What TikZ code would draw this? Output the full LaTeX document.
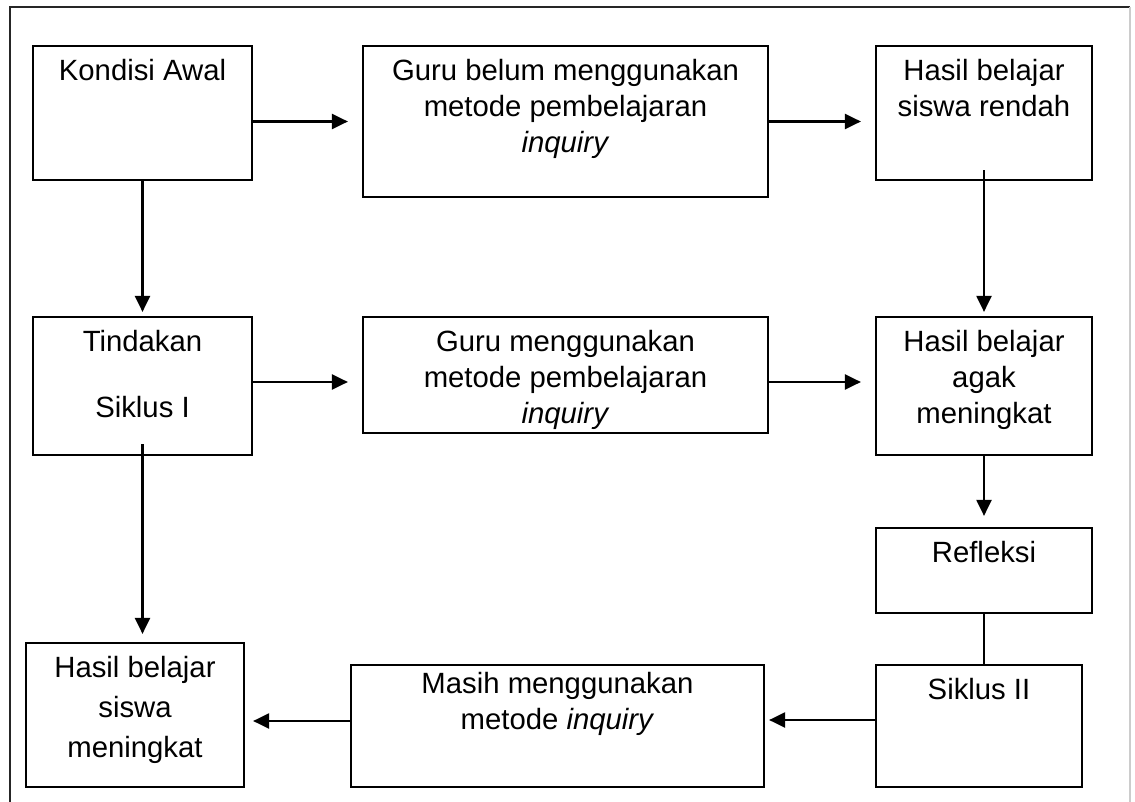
\documentclass[tikz,border=0pt]{standalone}
\usepackage{fontspec}
\setmainfont{Liberation Sans}
\usetikzlibrary{arrows.meta}
\tikzset{
  kotak/.style={draw, line width=1.1pt, inner sep=0pt},
  teks/.style={anchor=north, align=center, yshift=-3.6pt},
  panah/.style={-{Triangle[length=8pt,width=7.5pt]}, line width=1.1pt},
}

\begin{document}
\begin{tikzpicture}[x=0.5pt,y=-0.5pt,font=\fontsize{14.65}{18}\selectfont]
      \useasboundingbox (0,0) rectangle (1135,802);
      \draw[line width=0.9pt, black!85] (10,802) -- (10,7) -- (1130,7);
      \draw[line width=0.9pt, black!20] (1130,7) -- (1130,802);

      \node[kotak,minimum width=109.5pt,minimum height=67pt,label={[teks]north:{Kondisi Awal}}] (ka) at (142.5,113) {};
      \node[kotak,minimum width=202.5pt,minimum height=75.5pt,label={[teks]north:{Guru belum menggunakan\\metode pembelajaran\\\textit{inquiry}}}] (gb) at (565.5,121.5) {};
      \node[kotak,minimum width=108pt,minimum height=67pt,label={[teks]north:{Hasil belajar\\siswa rendah}}] (hr) at (984,113) {};
      \node[kotak,minimum width=109.5pt,minimum height=69pt,label={[teks]north:{Tindakan\\[15pt]Siklus I}}] (ts) at (142.5,386) {};
      \node[kotak,minimum width=202.5pt,minimum height=58pt,label={[teks]north:{Guru menggunakan\\metode pembelajaran\\\textit{inquiry}}}] (gm) at (565.5,375) {};
      \node[kotak,minimum width=108pt,minimum height=69pt,label={[teks]north:{Hasil belajar\\agak\\meningkat}}] (ha) at (984,386) {};
      \node[kotak,minimum width=108pt,minimum height=42.5pt,label={[teks]north:{Refleksi}}] (rf) at (984,570.5) {};
      \node[kotak,minimum width=103pt,minimum height=61pt,label={[teks]north:{Siklus II}}] (s2) at (979,726) {};
      \node[kotak,minimum width=206.5pt,minimum height=61pt,label={[teks,yshift=3pt]north:{Masih menggunakan\\metode \textit{inquiry}}}] (mm) at (557.5,726) {};
      \node[kotak,minimum width=109pt,minimum height=72pt,label={[teks]north:{Hasil belajar\\[2pt]siswa\\[2pt]meningkat}}] (hm) at (135,715) {};

      \draw[panah, shorten >=7pt] (ka.east |- gb.west) -- (gb.west);
      \draw[panah, shorten >=7pt] (gb.east) -- (gb.east -| hr.west);
      \draw[panah, shorten >=2pt] (ka.south) -- (ts.north);
      \draw[panah, shorten >=2pt] ([yshift=5.5pt]hr.south) -- (ha.north);
      \draw[panah, shorten >=7pt] ([yshift=2pt]ts.east) -- ([yshift=2pt]ts.east -| gm.west);
      \draw[panah, shorten >=7pt] ([yshift=-3.5pt]gm.east) -- ([yshift=-3.5pt]gm.east -| ha.west);
      \draw[panah, shorten >=4pt] ([yshift=6pt]ts.south) -- (ts.south |- hm.north);
      \draw[panah, shorten >=5.5pt] (ha.south) -- (rf.north);
      \draw[line width=1.1pt] (rf.south) -- (rf.south |- s2.north);
      \draw[panah, shorten >=2pt] ([yshift=3pt]s2.west) -- ([yshift=3pt]s2.west -| mm.east);
      \draw[panah, shorten >=4pt] ([yshift=2.5pt]mm.west) -- ([yshift=2.5pt]mm.west -| hm.east);
    \end{tikzpicture}
\end{document}
